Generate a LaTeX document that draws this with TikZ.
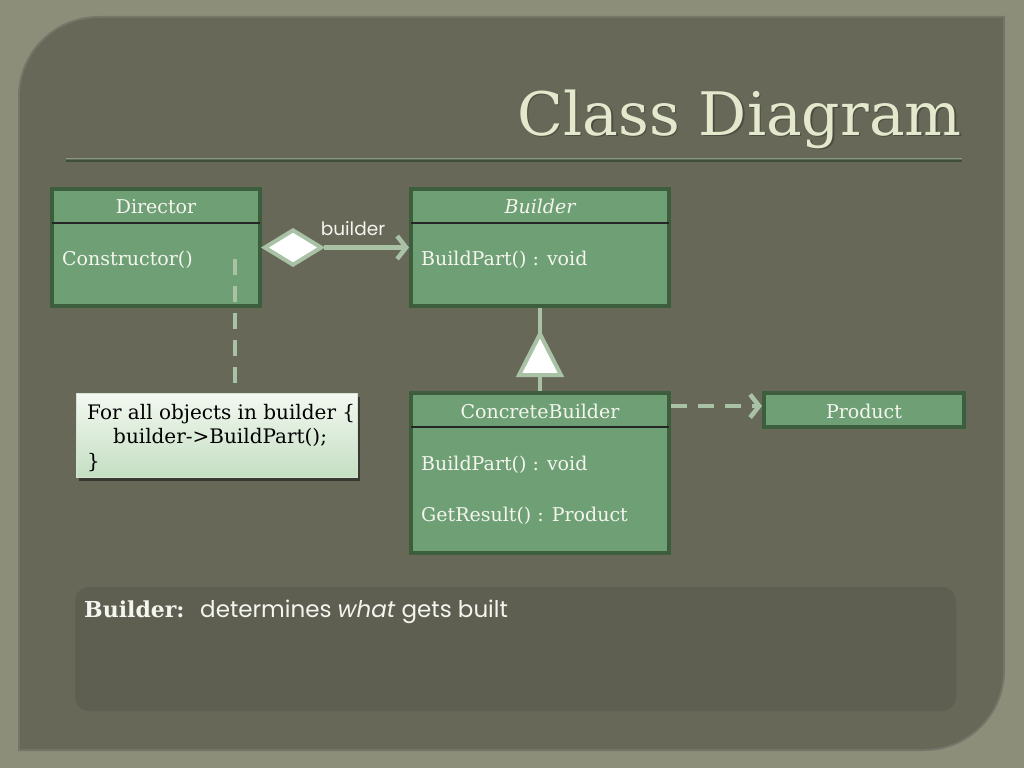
\documentclass[tikz,border=0pt]{standalone}
\usepackage{fontspec}
\setmainfont{DejaVu Serif}
\newfontfamily\geofont{Poppins}
\usetikzlibrary{shapes.geometric,arrows.meta,shadows,calc}
\definecolor{bgc}{HTML}{8C8E7A}
\definecolor{panelc}{HTML}{676858}
\definecolor{panelrim}{HTML}{747669}
\definecolor{boxfill}{HTML}{6FA075}
\definecolor{boxline}{HTML}{3C5E3D}
\definecolor{boxtext}{HTML}{F4F5EE}
\definecolor{connc}{HTML}{A9C2A6}
\definecolor{notetop}{HTML}{F3F8F1}
\definecolor{notebot}{HTML}{C4DFC2}
\definecolor{noteline}{HTML}{D5E2D3}
\definecolor{infoc}{HTML}{5E5F51}
\definecolor{titlec}{HTML}{E4E8CC}
\definecolor{titleshadow}{HTML}{3A3C30}
\definecolor{rulelight}{HTML}{809D7F}
\definecolor{ruledark}{HTML}{3E503C}
\begin{document}
\begin{tikzpicture}[x=1pt,y=-1pt,
  cls/.style={draw=boxline, line width=4pt, fill=boxfill, rectangle, inner sep=0pt, anchor=north west},
  boxfont/.style={font=\fontsize{19}{24}\selectfont},
  hdr/.style={boxfont, text=boxtext, inner sep=0pt, anchor=base},
  mem/.style={boxfont, text=boxtext, inner sep=0pt, anchor=base west},
  sepline/.style={draw=black!85, line width=1.2pt},
  conn/.style={draw=connc, line width=4.5pt},
  dashconn/.style={conn, dash pattern=on 16pt off 11pt},
  barb/.style={-{Straight Barb[length=9pt,width=23pt]}},
  hollow/.style={draw=connc, line width=4pt, fill=white, line join=miter},
]
\useasboundingbox (0,0) rectangle (1024,768);
% background
\fill[bgc] (0,0) rectangle (1024,768);
% panel
\fill[panelrim] (18,97) .. controls (18,52) and (54,16) .. (99,16) -- (1005,16) -- (1005,670)
  .. controls (1005,715) and (969,751) .. (924,751) -- (18,751) -- cycle;
\fill[panelc] (20,97) .. controls (20,53) and (55,18) .. (99,18) -- (1003,18) -- (1003,670)
  .. controls (1003,714) and (968,749) .. (924,749) -- (20,749) -- cycle;
% title
\node[anchor=base east, text=titleshadow, opacity=0.6, inner sep=0pt, font=\fontsize{60}{70}\selectfont] (titlesh) at (963.5,136.5) {Class Diagram};
\node[anchor=base east, text=titlec, inner sep=0pt, font=\fontsize{60}{70}\selectfont] (title) at (962,135) {Class Diagram};
\draw[rulelight, line width=1.8pt] (66,158.5) -- (962,158.5);
\draw[ruledark, line width=1.4pt] (66,160.8) -- (962,160.8);
% class boxes
\node[cls, minimum width=208pt, minimum height=117pt] (dir) at (50,187) {};
\node[cls, minimum width=258pt, minimum height=117pt] (bld) at (409,187) {};
\node[cls, minimum width=258pt, minimum height=160pt] (cb) at (409,391) {};
\node[cls, minimum width=200pt, minimum height=34pt] (prod) at (762,391) {};
\draw[sepline] (52,223) -- (260,223);
\draw[sepline] (411,223) -- (669,223);
\draw[sepline] (411,427) -- (669,427);
% texts
\node[hdr] (dirT) at (156,213) {Director};
\node[mem] (dirM) at (62,265) {Constructor()};
\node[hdr] (bldT) at (540,213) {\itshape Builder};
\node[mem] (bldM) at (421,265) {BuildPart() : void};
\node[hdr] (cbT) at (540,418) {ConcreteBuilder};
\node[mem] (cbM1) at (421,470) {BuildPart() : void};
\node[mem] (cbM2) at (421,521) {GetResult() : Product};
\node[hdr] (prodT) at (864,418) {Product};
% note
\node[anchor=north west, draw=noteline, line width=0.8pt, top color=notetop, bottom color=notebot,
  minimum width=281pt, minimum height=84pt, inner sep=0pt,
  drop shadow={shadow xshift=3pt, shadow yshift=-4pt, opacity=0.45, fill=black}] (note) at (76,393) {};
\node[anchor=base west, inner sep=0pt, align=left, font=\fontsize{20}{24.5}\selectfont, text=black] (noteT) at (87,468)
  {For all objects in builder \{\\\hspace*{26pt}builder->BuildPart();\\\}};
% aggregation
\node[diamond, draw=connc, line width=4pt, fill=white, inner sep=0pt, minimum width=58pt, minimum height=36pt, anchor=west] (agg) at (dir.east) {};
\draw[conn, barb] (agg.east) -- (agg.east -| bld.west);
\node[anchor=base, inner sep=0pt, text=boxtext, font=\geofont\fontsize{18.5}{22}\selectfont] (aggL) at (353,235) {builder};
% inheritance
\draw[conn] (cb.north) -- (bld.south);
\path (cb.north) ++(0,-16) coordinate (tb);
\draw[hollow] (tb) ++(-21,0) -- ++(42,0) -- ($(tb)+(0,-41)$) -- cycle;
% dependency
\coordinate (depy) at (0,406);
\draw[dashconn, barb] (cb.east |- depy) -- (prod.west |- depy);
% note link
\coordinate (nl) at (235,259);
\draw[dashconn] (nl) -- (nl |- note.north);
% info box
\fill[infoc, rounded corners=14pt] (75,587) rectangle (956,711);
\node[anchor=base west, inner sep=0pt, text=boxtext, font=\fontsize{22}{26}\selectfont\bfseries] (infoB) at (84,617) {Builder:};
\node[anchor=base west, inner sep=0pt, text=boxtext, font=\geofont\fontsize{23}{26}\selectfont] (infoT) at (200,617) {determines \textit{what} gets built};
\end{tikzpicture}
\end{document}
